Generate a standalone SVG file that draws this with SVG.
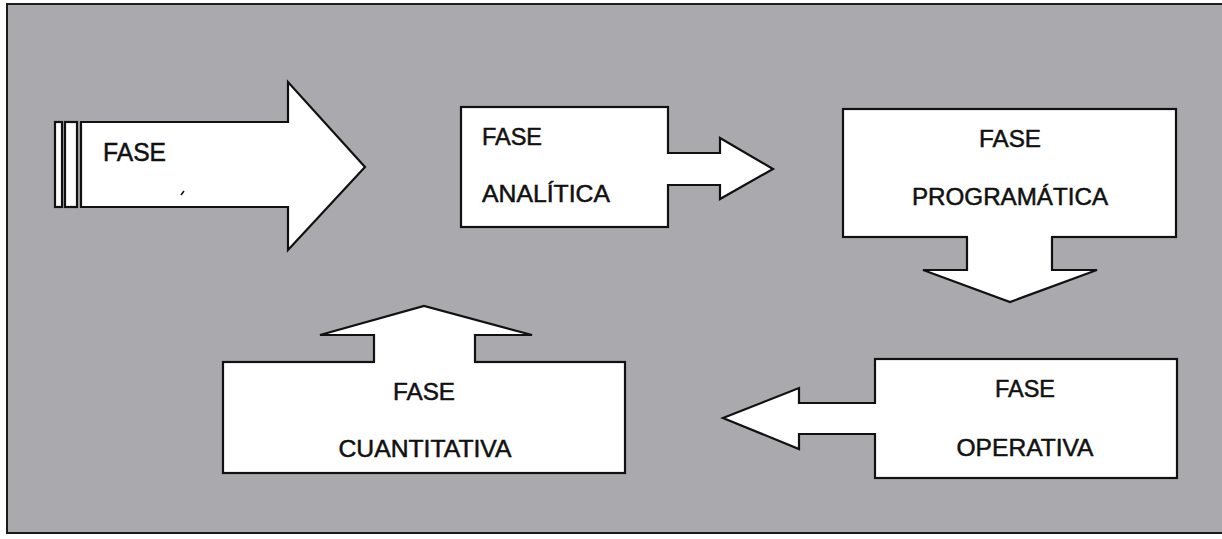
<svg xmlns="http://www.w3.org/2000/svg" width="1222" height="539" viewBox="0 0 1222 539">
<style>
.shape{fill:#fff;stroke:#111;stroke-width:2.2;stroke-linejoin:miter}
.fill{fill:#fff;stroke:none}
.line{fill:none;stroke:#111;stroke-width:2.2;stroke-linejoin:miter}
.t{font-family:"Liberation Sans",Arial,sans-serif;font-size:23px;fill:#111;stroke:#111;stroke-width:0.5}
.m{text-anchor:middle}
</style>
<rect x="0" y="0" width="1222" height="539" fill="#fff"/>
<rect x="7" y="4" width="1222" height="529" fill="#a9a9ae" stroke="#1a1a1a" stroke-width="2"/>

<g id="fase-inicio">
<rect class="shape" x="55" y="122" width="7" height="85"/>
<rect class="shape" x="65" y="122" width="12" height="85"/>
<polygon class="shape" points="81,122 288,122 288,82 365,167 288,250 288,207 81,207"/>
<text class="t" x="103" y="161" style="font-size:25px" textLength="63" lengthAdjust="spacingAndGlyphs">FASE</text>
<line x1="181" y1="195" x2="184" y2="191" stroke="#111" stroke-width="1.5"/>
</g>

<g id="fase-analitica">
<rect class="shape" x="461" y="107" width="207" height="120"/>
<text class="t" x="482" y="145" textLength="60" lengthAdjust="spacingAndGlyphs">FASE</text>
<text class="t" x="482" y="202" textLength="128" lengthAdjust="spacingAndGlyphs">ANALÍTICA</text>
</g>

<g id="fase-programatica">
<rect class="shape" x="843" y="109" width="333" height="128"/>
<text class="t m" x="1010" y="147" textLength="62" lengthAdjust="spacingAndGlyphs">FASE</text>
<text class="t m" x="1010" y="205" textLength="196" lengthAdjust="spacingAndGlyphs">PROGRAMÁTICA</text>
</g>

<g id="fase-operativa">
<rect class="shape" x="875" y="359" width="302" height="119"/>
<text class="t m" x="1025" y="397" textLength="60" lengthAdjust="spacingAndGlyphs">FASE</text>
<text class="t m" x="1025" y="456" textLength="137" lengthAdjust="spacingAndGlyphs">OPERATIVA</text>
</g>

<g id="fase-cuantitativa">
<rect class="shape" x="223" y="362" width="402" height="111"/>
<text class="t m" x="424" y="400" textLength="62" lengthAdjust="spacingAndGlyphs">FASE</text>
<text class="t m" x="425" y="457" textLength="173" lengthAdjust="spacingAndGlyphs">CUANTITATIVA</text>
</g>

<g id="connectors">
<polygon class="fill" points="666,154 720,154 720,138 773,169 720,199 720,184 666,184"/>
<polyline class="line" points="668,153 720,153 720,138 773,169 720,199 720,185 668,185"/>

<polygon class="fill" points="968,235 968,271 923,271 1010,302 1097,271 1051,271 1051,235"/>
<polyline class="line" points="967,237 967,270 923,270 1010,302 1097,270 1052,270 1052,237"/>

<polygon class="fill" points="877,404 799,404 799,388 723,418 799,449 799,433 877,433"/>
<polyline class="line" points="875,403 799,403 799,388 723,418 799,449 799,434 875,434"/>

<polygon class="fill" points="375,364 375,335 320,335 424,306 532,335 474,335 474,364"/>
<polyline class="line" points="374,362 374,335 320,335 424,306 532,335 475,335 475,362"/>
</g>
</svg>
